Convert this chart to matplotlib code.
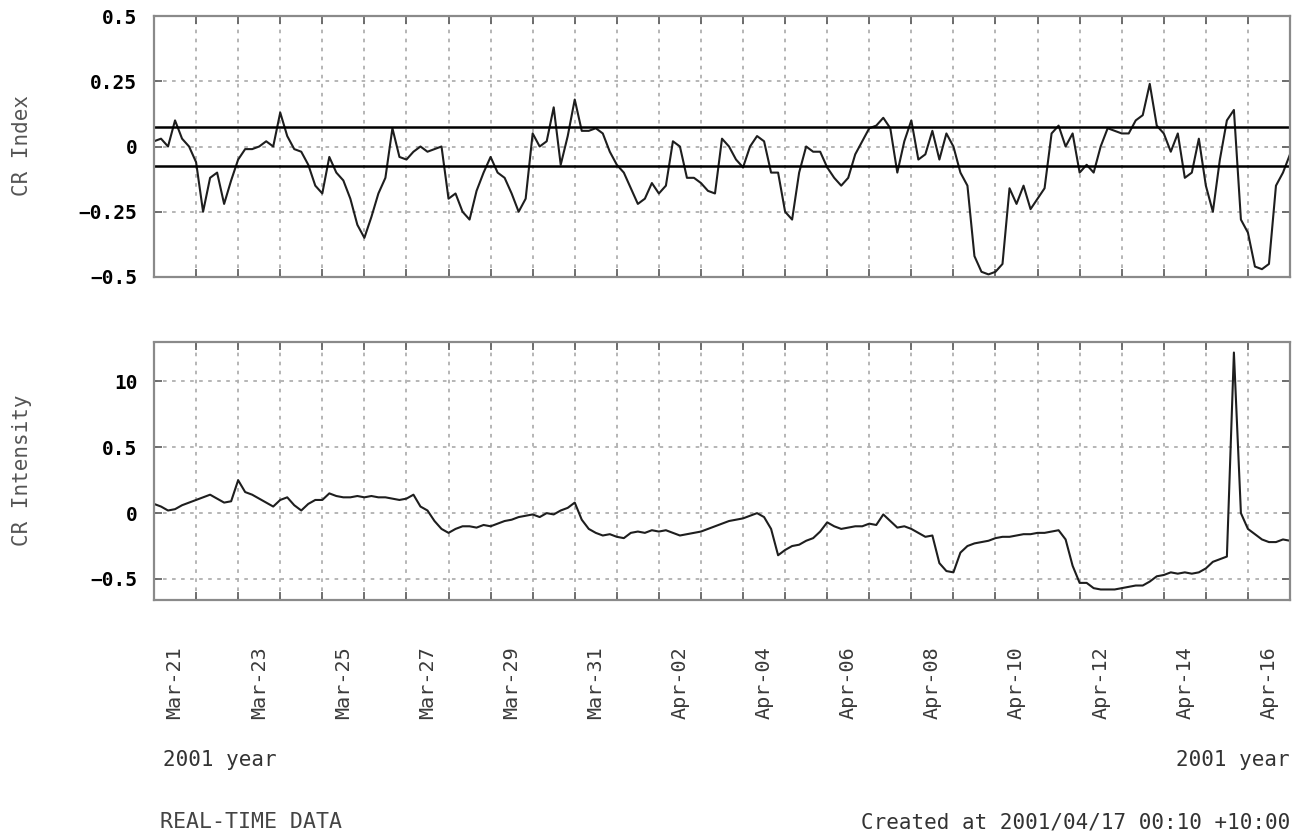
import matplotlib
matplotlib.use("Agg")
import matplotlib.pyplot as plt
import matplotlib.dates as mdates
from datetime import datetime, timedelta

# readings every 4 hours starting 2001-03-21 00:00 (local, +10:00)
start = datetime(2001, 3, 21)
step_hours = 4

cr_index = [
    0.02, 0.03, 0.0, 0.10, 0.03, 0.0, -0.06, -0.25, -0.12, -0.10,
    -0.22, -0.13, -0.05, -0.01, -0.01, 0.0, 0.02, 0.0, 0.13, 0.04,
    -0.01, -0.02, -0.07, -0.15, -0.18, -0.04, -0.10, -0.13, -0.20, -0.30,
    -0.35, -0.27, -0.18, -0.12, 0.07, -0.04, -0.05, -0.02, 0.0, -0.02,
    -0.01, 0.0, -0.20, -0.18, -0.25, -0.28, -0.17, -0.10, -0.04, -0.10,
    -0.12, -0.18, -0.25, -0.20, 0.05, 0.0, 0.02, 0.15, -0.07, 0.04,
    0.18, 0.06, 0.06, 0.07, 0.05, -0.02, -0.07, -0.10, -0.16, -0.22,
    -0.20, -0.14, -0.18, -0.15, 0.02, 0.0, -0.12, -0.12, -0.14, -0.17,
    -0.18, 0.03, 0.0, -0.05, -0.08, 0.0, 0.04, 0.02, -0.10, -0.10,
    -0.25, -0.28, -0.10, 0.0, -0.02, -0.02, -0.08, -0.12, -0.15, -0.12,
    -0.03, 0.02, 0.07, 0.08, 0.11, 0.07, -0.10, 0.02, 0.10, -0.05,
    -0.03, 0.06, -0.05, 0.05, 0.0, -0.10, -0.15, -0.42, -0.48, -0.49,
    -0.48, -0.45, -0.16, -0.22, -0.15, -0.24, -0.20, -0.16, 0.05, 0.08,
    0.0, 0.05, -0.10, -0.07, -0.10, 0.0, 0.07, 0.06, 0.05, 0.05,
    0.10, 0.12, 0.24, 0.08, 0.05, -0.02, 0.05, -0.12, -0.10, 0.03,
    -0.15, -0.25, -0.05, 0.10, 0.14, -0.28, -0.33, -0.46, -0.47, -0.45,
    -0.15, -0.10, -0.03,
]

cr_intensity = [
    0.07, 0.05, 0.02, 0.03, 0.06, 0.08, 0.10, 0.12, 0.14, 0.11,
    0.08, 0.09, 0.25, 0.16, 0.14, 0.11, 0.08, 0.05, 0.10, 0.12,
    0.06, 0.02, 0.07, 0.10, 0.10, 0.15, 0.13, 0.12, 0.12, 0.13,
    0.12, 0.13, 0.12, 0.12, 0.11, 0.10, 0.11, 0.14, 0.05, 0.02,
    -0.06, -0.12, -0.15, -0.12, -0.10, -0.10, -0.11, -0.09, -0.10, -0.08,
    -0.06, -0.05, -0.03, -0.02, -0.01, -0.03, 0.0, -0.01, 0.02, 0.04,
    0.08, -0.05, -0.12, -0.15, -0.17, -0.16, -0.18, -0.19, -0.15, -0.14,
    -0.15, -0.13, -0.14, -0.13, -0.15, -0.17, -0.16, -0.15, -0.14, -0.12,
    -0.10, -0.08, -0.06, -0.05, -0.04, -0.02, 0.0, -0.03, -0.12, -0.32,
    -0.28, -0.25, -0.24, -0.21, -0.19, -0.14, -0.07, -0.10, -0.12, -0.11,
    -0.10, -0.10, -0.08, -0.09, -0.01, -0.06, -0.11, -0.10, -0.12, -0.15,
    -0.18, -0.17, -0.38, -0.44, -0.45, -0.30, -0.25, -0.23, -0.22, -0.21,
    -0.19, -0.18, -0.18, -0.17, -0.16, -0.16, -0.15, -0.15, -0.14, -0.13,
    -0.20, -0.40, -0.53, -0.53, -0.57, -0.58, -0.58, -0.58, -0.57, -0.56,
    -0.55, -0.55, -0.52, -0.48, -0.47, -0.45, -0.46, -0.45, -0.46, -0.45,
    -0.42, -0.37, -0.35, -0.33, 1.22, 0.0, -0.12, -0.16, -0.20, -0.22,
    -0.22, -0.20, -0.21,
]

index_ticks = [0.5, 0.25, 0, -0.25, -0.5]
index_labels = ["0.5", "0.25", "0", "\u22120.25", "\u22120.5"]
intensity_ticks = [1.0, 0.5, 0, -0.5]
intensity_labels = ["10", "0.5", "0", "\u22120.5"]
index_band = 0.075

times = [start + timedelta(hours=step_hours * i) for i in range(len(cr_index))]
end = start + timedelta(days=27)
label_days = [start + timedelta(days=2 * k, hours=12) for k in range(14)]

plt.rcParams['font.family'] = ['DejaVu Sans Mono']

fig = plt.figure(figsize=(12.99, 8.34), dpi=100)
W, H = 1299, 834
ax1 = fig.add_axes([154 / W, 1 - 277 / H, 1136 / W, 261 / H])
ax2 = fig.add_axes([154 / W, 1 - 600 / H, 1136 / W, 258 / H])

grid_kw = dict(color="#b0b0b0", linewidth=1.3, linestyle=(0, (2, 3)))

for ax in (ax1, ax2):
    ax.set_xlim(start, end)
    ax.xaxis.set_major_locator(mdates.DayLocator())
    ax.xaxis.set_major_formatter(plt.NullFormatter())
    ax.grid(True, which="major", **grid_kw)
    ax.tick_params(which="major", direction="in", length=6, width=1.3,
                   color="#666666", top=True, right=True,
                   labelsize=14, pad=12)
    for s in ax.spines.values():
        s.set_color("#8a8a8a")
        s.set_linewidth(1.6)
        s.set_linestyle((0, (2, 1)))

# top panel
ax1.plot(times, cr_index, color="#1e1e1e", linewidth=1.5)
ax1.axhline(index_band, color="black", linewidth=1.8)
ax1.axhline(-index_band, color="black", linewidth=1.8)
ax1.set_ylim(-0.5, 0.5)
ax1.set_yticks(index_ticks, index_labels, fontweight="bold", fontsize=14)

# bottom panel
ax2.plot(times, cr_intensity, color="#1e1e1e", linewidth=1.5)
ax2.set_ylim(-0.66, 1.3)
ax2.set_yticks(intensity_ticks, intensity_labels, fontweight="bold", fontsize=14)
ax2.set_xticks(label_days, [d.strftime("%b-%d") for d in label_days], minor=True)
ax2.tick_params(axis="x", which="minor", length=0, pad=33, labelsize=14.5,
                labelrotation=90, labelcolor="#3a3a3a")

fig.text(22 / W, 1 - 146 / H, "CR Index", rotation=90, ha="center", va="center",
         fontsize=15, color="#555555")
fig.text(22 / W, 1 - 470 / H, "CR Intensity", rotation=90, ha="center", va="center",
         fontsize=15, color="#555555")
fig.text(163 / W, 1 - 760 / H, "2001 year", ha="left", va="center",
         fontsize=15, color="#333333")
fig.text(1290 / W, 1 - 760 / H, "2001 year", ha="right", va="center",
         fontsize=15, color="#333333")
fig.text(160 / W, 1 - 822 / H, "REAL-TIME DATA", ha="left", va="center",
         fontsize=15.5, color="#444444")
fig.text(1290 / W, 1 - 822 / H, "Created at 2001/04/17 00:10 +10:00", ha="right",
         va="center", fontsize=15, color="#333333")

fig.savefig("out.png", dpi=100)
